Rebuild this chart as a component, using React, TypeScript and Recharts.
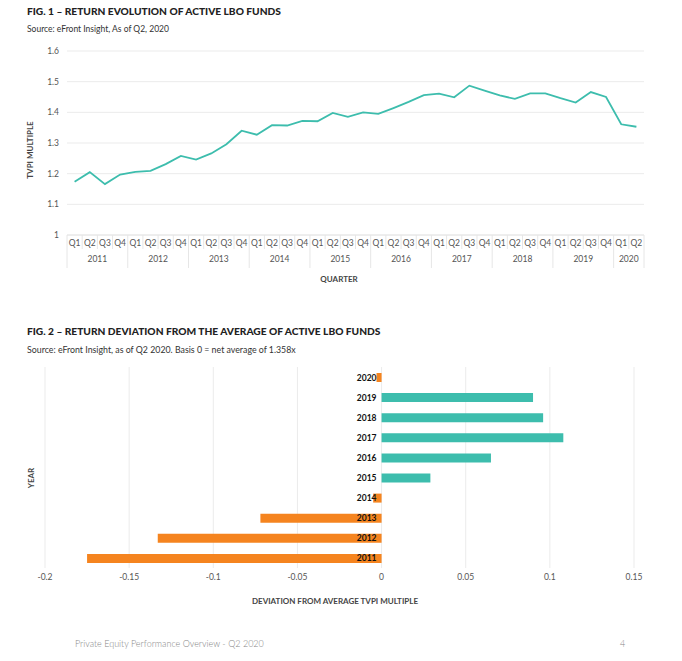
import React from "react";
import {
  LineChart,
  Line,
  BarChart,
  Bar,
  Cell,
  LabelList,
  XAxis,
  YAxis,
  CartesianGrid,
} from "recharts";

const years = ["2011", "2012", "2013", "2014", "2015", "2016", "2017", "2018", "2019", "2020"];
const quarterYears = [
  "2011", "2011", "2011", "2011",
  "2012", "2012", "2012", "2012",
  "2013", "2013", "2013", "2013",
  "2014", "2014", "2014", "2014",
  "2015", "2015", "2015", "2015",
  "2016", "2016", "2016", "2016",
  "2017", "2017", "2017", "2017",
  "2018", "2018", "2018", "2018",
  "2019", "2019", "2019", "2019",
  "2020", "2020",
];
const quarters = [
  "Q1", "Q2", "Q3", "Q4", "Q1", "Q2", "Q3", "Q4", "Q1", "Q2", "Q3", "Q4",
  "Q1", "Q2", "Q3", "Q4", "Q1", "Q2", "Q3", "Q4", "Q1", "Q2", "Q3", "Q4",
  "Q1", "Q2", "Q3", "Q4", "Q1", "Q2", "Q3", "Q4", "Q1", "Q2", "Q3", "Q4",
  "Q1", "Q2",
];
const tvpi = [
  1.174, 1.205, 1.166, 1.197,
  1.206, 1.209, 1.231, 1.258,
  1.246, 1.266, 1.296, 1.34,
  1.327, 1.358, 1.357, 1.372,
  1.371, 1.398, 1.385, 1.4,
  1.395, 1.414, 1.434, 1.456,
  1.461, 1.449, 1.487, 1.471,
  1.455, 1.444, 1.462, 1.462,
  1.446, 1.432, 1.466, 1.45,
  1.361, 1.353,
];
const deviation = [-0.175, -0.133, -0.072, -0.005, 0.029, 0.065, 0.108, 0.096, 0.09, -0.003];

const yTicks = [1, 1.1, 1.2, 1.3, 1.4, 1.5, 1.6];
const devTicks = [-0.2, -0.15, -0.1, -0.05, 0, 0.05, 0.1, 0.15];

const TEAL = "#3dbdad";
const ORANGE = "#f5841f";
const FONT = "Lato, 'Noto Sans', sans-serif";

const lineData = tvpi.map((v, i) => ({ key: `${quarterYears[i]}-${quarters[i]}`, q: quarters[i], year: quarterYears[i], tvpi: v }));
const barData = years.map((y, i) => ({ year: y, dev: deviation[i] }));

function QuarterTick(props: any) {
  const { x, y, payload } = props;
  const i = payload.index;
  const half = payload.offset || 0;
  const left = x - half;
  const yr = quarterYears[i];
  const first = i === 0 || quarterYears[i - 1] !== yr;
  const count = quarterYears.filter((v) => v === yr).length;
  const pos = quarterYears.indexOf(yr);
  const isMid = i - pos === Math.floor(count / 2);
  const isLast = i === quarterYears.length - 1;
  return (
    <g>
      <line x1={left} x2={left} y1={y} y2={y + (first ? 33 : 14)} stroke="#e6e6e6" />
      {isLast && <line x1={x + half} x2={x + half} y1={y} y2={y + 33} stroke="#e6e6e6" />}
      <text x={x} y={y + 11} textAnchor="middle" fontSize={8.5} fill="#555" fontFamily={FONT}>
        {quarters[i]}
      </text>
      {isMid && (
        <text x={left} y={y + 27} textAnchor="middle" fontSize={8.5} fill="#555" fontFamily={FONT}>
          {yr}
        </text>
      )}
    </g>
  );
}

function YearLabel(props: any) {
  const { x, y, width, height, index } = props;
  const v = deviation[index];
  const zeroX = v < 0 && width > 0 ? x + width : x;
  return (
    <text
      x={zeroX - 5}
      y={y + height / 2 + 3}
      textAnchor="end"
      fontSize={8.5}
      fontWeight={700}
      fill="#111"
      fontFamily={FONT}
    >
      {years[index]}
    </text>
  );
}

const abs = (style: React.CSSProperties): React.CSSProperties => ({ position: "absolute", fontFamily: FONT, whiteSpace: "nowrap", ...style });

export default function App() {
  return (
    <div style={{ position: "absolute", left: 0, top: 0, width: 682, height: 661, background: "#fff", overflow: "hidden" }}>
      <div style={abs({ left: 27, top: 5, fontSize: 10.2, fontWeight: 900, color: "#222" })}>
        FIG. 1 – RETURN EVOLUTION OF ACTIVE LBO FUNDS
      </div>
      <div style={abs({ left: 27, top: 24, fontSize: 8.5, color: "#333" })}>Source: eFront Insight, As of Q2, 2020</div>

      <div style={abs({ left: 0, top: 0 })}>
        <LineChart width={682} height={275} data={lineData} margin={{ top: 51, right: 38, bottom: 0, left: 0 }}>
          <CartesianGrid vertical={false} stroke="#ebebeb" />
          <XAxis
            dataKey="key"
            scale="band"
            interval={0}
            height={40}
            tickLine={false}
            tickSize={0}
            tickMargin={0}
            axisLine={{ stroke: "#e6e6e6" }}
            tick={<QuarterTick />}
          />
          <YAxis
            domain={[1, 1.6]}
            ticks={yTicks}
            width={67}
            axisLine={false}
            tickLine={false}
            tickMargin={2}
            tick={{ fontSize: 8.5, fill: "#555", fontFamily: FONT }}
          />
          <Line type="linear" dataKey="tvpi" stroke={TEAL} strokeWidth={1.8} dot={false} isAnimationActive={false} />
        </LineChart>
      </div>

      <div style={abs({ left: 30, top: 150, fontSize: 8, fontWeight: 700, color: "#444", transform: "translate(-50%, -50%) rotate(-90deg)" })}>
        TVPI MULTIPLE
      </div>
      <div style={abs({ left: 339, top: 279, fontSize: 8, fontWeight: 700, color: "#444", transform: "translate(-50%, -50%)" })}>
        QUARTER
      </div>

      <div style={abs({ left: 27, top: 325, fontSize: 10.2, fontWeight: 900, color: "#222" })}>
        FIG. 2 – RETURN DEVIATION FROM THE AVERAGE OF ACTIVE LBO FUNDS
      </div>
      <div style={abs({ left: 27, top: 344, fontSize: 8.8, color: "#333" })}>
        Source: eFront Insight, as of Q2 2020. Basis 0 = net average of 1.358x
      </div>

      <div style={abs({ left: 0, top: 340 })}>
        <BarChart
          width={682}
          height={258}
          data={barData}
          layout="vertical"
          margin={{ top: 27, right: 48, bottom: 0, left: 45 }}
        >
          <CartesianGrid horizontal={false} stroke="#ebebeb" />
          <XAxis
            type="number"
            domain={[-0.2, 0.15]}
            ticks={devTicks}
            axisLine={false}
            tickLine={false}
            tickMargin={0}
            height={30}
            tick={{ fontSize: 8.5, fill: "#555", fontFamily: FONT }}
          />
          <YAxis type="category" dataKey="year" reversed hide />
          <Bar dataKey="dev" barSize={9} isAnimationActive={false}>
            {barData.map((d) => (
              <Cell key={d.year} fill={d.dev >= 0 ? TEAL : ORANGE} />
            ))}
            <LabelList dataKey="year" content={<YearLabel />} />
          </Bar>
        </BarChart>
      </div>

      <div style={abs({ left: 31, top: 478, fontSize: 8, fontWeight: 700, color: "#444", transform: "translate(-50%, -50%) rotate(-90deg)" })}>
        YEAR
      </div>
      <div style={abs({ left: 335, top: 601, fontSize: 8, fontWeight: 700, color: "#444", transform: "translate(-50%, -50%)" })}>
        DEVIATION FROM AVERAGE TVPI MULTIPLE
      </div>

      <div style={abs({ left: 75, top: 638, fontSize: 9, color: "#888", fontWeight: 300 })}>
        Private Equity Performance Overview - Q2 2020
      </div>
      <div style={abs({ left: 620, top: 638, fontSize: 9, color: "#888", fontWeight: 300 })}>4</div>
    </div>
  );
}
